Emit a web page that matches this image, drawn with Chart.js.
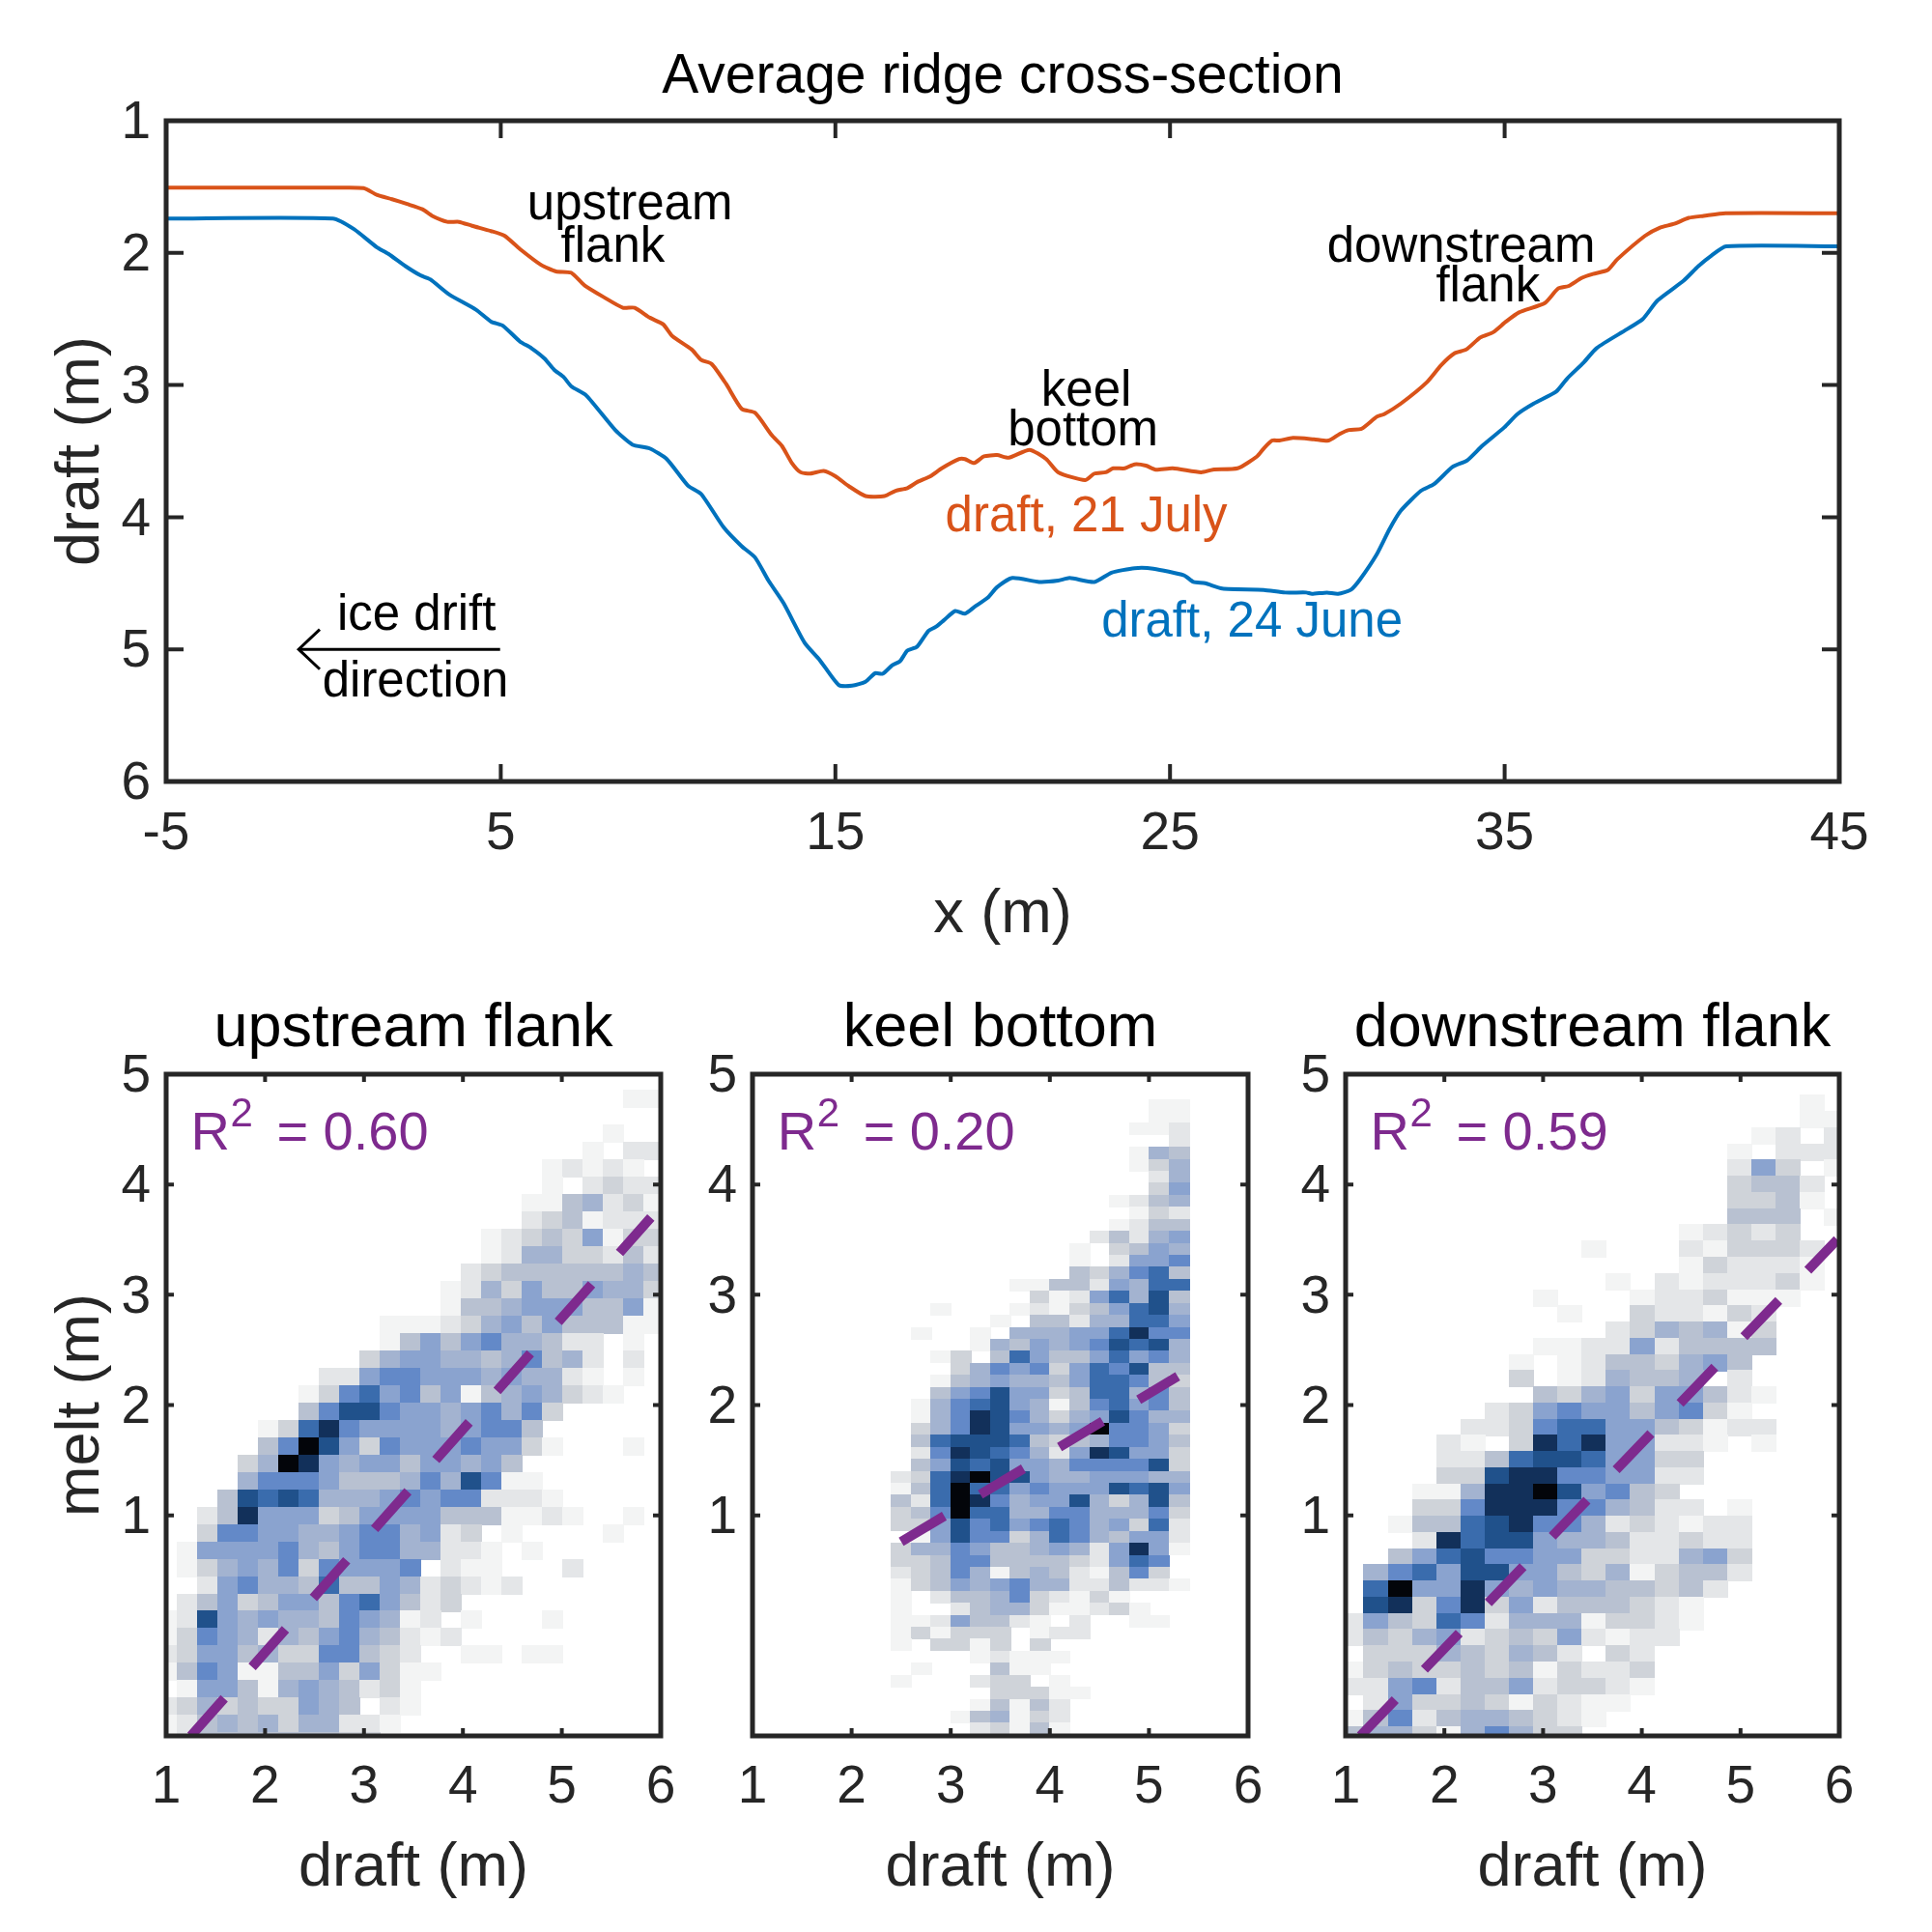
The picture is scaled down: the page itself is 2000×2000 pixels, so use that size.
<!DOCTYPE html>
<html>
<head>
<meta charset="utf-8">
<title>Average ridge cross-section</title>
<script src="https://cdn.jsdelivr.net/npm/chart.js@4"></script>
<style>
  html, body { margin: 0; padding: 0; background: #fff; }
  canvas { position: absolute; }
</style>
</head>
<body>
<script>
// top panel, draft curves
const xJuly = [-5,0.04,0.9,1.29,1.75,2.2,2.66,2.95,3.4,3.75,4.14,4.71,5.11,5.57,6.2,6.65,7.1,7.5,8.08,8.65,9,9.45,9.85,10.13,10.7,10.99,11.3,11.73,12.2,12.6,13.1,13.4,13.7,13.96,14.25,14.65,15,15.4,15.9,16.47,16.8,17.15,17.44,17.84,18.18,18.7,18.87,19.15,19.44,19.83,20.18,20.8,21.3,21.66,22.46,22.74,23.08,23.3,23.65,23.94,24.28,24.57,25.08,25.93,26.28,27.02,27.6,27.8,28.05,28.27,28.67,29.3,29.74,30.07,30.35,30.73,31.18,31.4,31.9,32.67,33.1,33.5,33.86,34.27,34.66,35.04,35.43,36.2,36.6,36.92,37.3,37.64,38.08,38.36,39.2,39.63,40.07,40.5,40.95,41.6,45];
const draftJuly = [1.507,1.507,1.51,1.56,1.594,1.63,1.67,1.72,1.765,1.765,1.795,1.835,1.87,1.97,2.09,2.14,2.15,2.245,2.335,2.415,2.415,2.49,2.54,2.63,2.73,2.81,2.84,2.99,3.18,3.21,3.38,3.46,3.59,3.66,3.67,3.65,3.69,3.765,3.84,3.84,3.8,3.78,3.735,3.69,3.63,3.56,3.56,3.59,3.54,3.53,3.55,3.49,3.56,3.66,3.72,3.67,3.66,3.63,3.63,3.6,3.61,3.64,3.63,3.66,3.64,3.63,3.54,3.48,3.42,3.42,3.4,3.41,3.42,3.37,3.34,3.33,3.24,3.22,3.14,2.98,2.85,2.76,2.73,2.64,2.6,2.52,2.45,2.38,2.27,2.25,2.19,2.16,2.13,2.05,1.87,1.81,1.78,1.735,1.72,1.7,1.7];
const xJune = [-5,-0.02,0.61,1.29,1.64,2.15,2.6,2.89,3.46,4.26,4.71,5.06,5.57,5.91,6.31,6.6,6.88,7.11,7.56,8.42,8.93,9.45,9.96,10.59,10.99,11.67,12.2,12.6,13,13.45,14.08,14.53,15.1,15.5,15.9,16.19,16.41,16.7,16.93,17.15,17.44,17.78,18,18.24,18.58,18.87,19.15,19.55,19.83,20.29,21.09,21.66,22,22.74,23.25,23.94,24.5,25.42,25.7,26.05,26.56,27.8,28.44,29.07,29.24,29.69,30.02,30.4,30.68,31.18,31.56,31.9,32.5,32.89,33.44,33.88,34.33,34.99,35.38,35.87,36.54,36.87,37.36,37.75,38.64,39.13,39.57,40.35,40.79,41.18,41.62,45];
const draftJune = [1.74,1.74,1.82,1.956,2.007,2.1,2.17,2.2,2.315,2.43,2.52,2.55,2.67,2.72,2.8,2.886,2.94,3.01,3.08,3.34,3.45,3.48,3.56,3.76,3.825,4.08,4.22,4.305,4.48,4.65,4.95,5.08,5.27,5.275,5.245,5.18,5.185,5.12,5.09,5.01,4.98,4.86,4.83,4.78,4.71,4.73,4.68,4.61,4.53,4.46,4.49,4.48,4.46,4.49,4.42,4.386,4.39,4.44,4.49,4.5,4.54,4.55,4.57,4.57,4.58,4.57,4.58,4.55,4.47,4.28,4.09,3.95,3.8,3.75,3.62,3.57,3.46,3.32,3.22,3.14,3.05,2.95,2.83,2.72,2.58,2.5,2.36,2.21,2.1,2.02,1.95,1.95];
const arrowShaftX = [-1.04,4.98];
const arrowShaftY = [5,5];
const arrowHeadX = [-0.41,-1.04,-0.41];
const arrowHeadY = [4.85,5,5.15];

const topXTicks = [-5,5,15,25,35,45];
const topYTicks = [1,2,3,4,5,6];
const lowXTicks = [1,2,3,4,5,6];
const lowYTicks = [1,2,3,4,5];

// labels inside the top panel: text, x, draft
const topNotes = [
  ['upstream',8.86,1.62,'#000'],['flank',8.35,1.94,'#000'],
  ['downstream',33.7,1.94,'#000'],['flank',34.5,2.24,'#000'],
  ['keel',22.5,3.03,'#000'],['bottom',22.4,3.33,'#000'],
  ['draft, 21 July',22.5,3.98,'#D95319'],['draft, 24 June',27.45,4.78,'#0072BD'],
  ['ice drift',2.48,4.73,'#000'],['direction',2.45,5.23,'#000']
];

// 2d histograms, one hex digit per bin (0 empty .. b highest), top row first
const upstreamBins = [
'00000 00000 00000 00000 00011',
'00000 00000 00000 00000 00000',
'00000 00000 00000 00000 00100',
'00000 00000 00000 00000 01022',
'00000 00000 00000 00001 21210',
'00000 00000 00000 00001 02322',
'00000 00000 00000 00011 45231',
'00000 00000 00000 00023 41222',
'00000 00000 00000 01234 36133',
'00000 00000 00000 01255 33242',
'00000 00000 00000 23444 44454',
'00000 00000 00001 25364 46553',
'00000 00000 00001 44566 64461',
'00000 00000 01112 35646 44411',
'00000 00000 01464 67554 22010',
'00000 00000 35665 54574 52020',
'00000 00022 67766 65655 21010',
'00000 00137 86746 14565 32100',
'00000 00479 97665 67573 00000',
'00000 138a7 66665 67740 00000',
'00000 47b96 37666 76631 00010',
'00003 5ba65 66466 56400 00000',
'00005 77764 44575 97110 00000',
'00049 89855 56767 72221 00000',
'0024a 66634 66664 44112 10010',
'00377 66556 77562 30100 00100',
'01666 67546 77552 21010 00000',
'01356 57376 66702 11000 20000',
'00267 55484 46523 21200 00000',
'02463 46647 86423 00000 00000',
'12965 65547 65120 10001 00000',
'13765 25467 54212 00000 00000',
'23664 53377 43200 11011 00000',
'14761 14463 63110 00000 00000',
'01664 15654 23100 00000 00000',
'23534 33654 02100 00000 00000',
'12454 53552 21000 00000 00000',
'12444 44443 30000 00000 00000'
];
const keelBins = [
'00000 00000 00011','00000 00000 00011','00000 00000 00112','00000 00000 00002',
'00000 00000 00154','00000 00000 00135','00000 00000 00025','00000 00000 00036',
'00000 00000 01245','00000 00000 00132','00000 00000 01244','00000 00000 24256',
'00000 00001 03465','00000 00001 02667','00000 00004 35784','00000 01144 26588',
'00000 00312 68594','00100 01213 46895','00000 10442 55886','01001 05556 68a77',
'00001 54656 79895','00130 48644 68675','00035 76736 87944','00145 65546 88743',
'00467 96634 88574','01578 96514 78674','0157a 97535 69755','0357a 96656 b7763',
'04899 98434 57764','027a9 87526 a9663','04698 96657 77793','238ab 99655 66655',
'148b8 86766 69896','428ba 75669 53594','347b8 85577 55573','33697 86787 56382',
'01697 73587 54662','35576 44565 26a61','33477 44443 26870','23475 14542 14730',
'13465 67552 24221','10244 57321 31000','10024 55311 23100','11264 42102 00110',
'13133 30122 00000','10331 30300 00000','00001 21110 00000','01000 41100 00000',
'10002 33010 00000','00000 33311 00000','00001 41420 00000','00014 51320 00000',
'00002 31410 00000'
];
const downstreamBins = [
'00000 00000 00000 00001 0','00000 00000 00000 00001 1','00000 00000 00000 00120 2',
'00000 00000 00000 01022 2','00000 00000 00000 02630 1','00000 00000 00000 03442 0',
'00000 00000 00000 03341 0','00000 00000 00000 04440 1','00000 00000 00001 23230 0',
'00000 00000 10002 13332 0','00000 00000 00001 32221 0','00000 00000 01021 22231 0',
'00000 00010 00122 31110 0','00000 00001 00322 13200 0','00000 00000 02354 51300 0',
'00000 00011 22624 44400 0','00000 00101 24435 64000 0','00000 00301 25445 02000 0',
'00000 00043 56366 42100 0','00000 02367 66467 31000 0','00000 22378 86643 12200 0',
'00002 103a8 a6622 10100 0','00002 24899 86633 00000 0','00003 39aa7 76622 00000 0',
'00011 5aab9 67430 00000 0','00033 7aaa7 75422 01000 0','00144 89a77 52321 22000 0',
'0002a 89965 54223 22000 0','00468 97766 33225 63000 0','05786 99664 35134 42000 0',
'08b66 a6565 54434 20000 0','09a37 a3624 44321 00000 0','26438 72555 13321 00000 0',
'24356 23436 21220 00000 0','03335 43542 03200 00000 0','13433 43413 22300 00000 0',
'22672 44623 32100 00000 0','02633 43132 11000 00000 0','14724 55432 10000 00000 0',
'45531 57533 00000 00000 0'
];

// dashed fits
const upstreamFitX = [1.25,5.9];
const upstreamFitY = [-1,3.7];
const keelFitX = [2.5,5.29];
const keelFitY = [0.76,2.26];
const downstreamFitX = [1.15,5.98];
const downstreamFitY = [-1,3.5];

const binColors = ['#ffffff','#f3f4f4','#e4e6e8','#cfd3d9','#b8c1d1','#a3b3d0','#8aa3cf','#6389c8','#3a6cad','#20518b','#12305a','#03050a'];
const FONT = '"Liberation Sans", Arial, sans-serif';
const INK = '#262626';
const PURPLE = '#7E2A8E';
const LOWER_PLOT_H = 685;

function pairs(xs, ys) {
  return xs.map((x, i) => ({ x: x, y: ys[i] }));
}

function binPoints(rows, x0, dx, y0, dy) {
  const pts = [];
  rows.forEach((row, r) => {
    row.replace(/ /g, '').split('').forEach((ch, c) => {
      const level = parseInt(ch, 16);
      if (level > 0) pts.push({ x: x0 + dx * (c + 0.5), y: y0 - dy * (r + 0.5), level: level });
    });
  });
  return pts;
}

// one colored stamp per level, the size of a bin on this panel
function binStamps(wPx, hPx) {
  return binColors.map(col => {
    const c = document.createElement('canvas');
    c.width = Math.ceil(wPx + 0.5);
    c.height = Math.ceil(hPx + 0.5);
    const g = c.getContext('2d');
    g.fillStyle = col;
    g.fillRect(0, 0, c.width, c.height);
    return c;
  });
}

const frame = {
  id: 'frame',
  afterDatasetsDraw(chart, args, opts) {
    const { ctx, chartArea: a, scales } = chart;
    ctx.save();
    ctx.strokeStyle = INK;
    ctx.lineWidth = 4;
    scales.x.ticks.forEach(t => {
      const px = scales.x.getPixelForValue(t.value);
      ctx.beginPath();
      ctx.moveTo(px, a.top); ctx.lineTo(px, a.top + opts.len);
      ctx.moveTo(px, a.bottom); ctx.lineTo(px, a.bottom - opts.len);
      ctx.stroke();
    });
    scales.y.ticks.forEach(t => {
      const py = scales.y.getPixelForValue(t.value);
      ctx.beginPath();
      ctx.moveTo(a.left, py); ctx.lineTo(a.left + opts.len, py);
      ctx.moveTo(a.right, py); ctx.lineTo(a.right - opts.len, py);
      ctx.stroke();
    });
    ctx.lineWidth = 5;
    ctx.strokeRect(a.left, a.top, a.right - a.left, a.bottom - a.top);
    ctx.restore();
  }
};

const notes = {
  id: 'notes',
  afterDatasetsDraw(chart, args, opts) {
    const { ctx, scales } = chart;
    ctx.save();
    ctx.font = '51px ' + FONT;
    ctx.textAlign = 'center';
    ctx.textBaseline = 'middle';
    (opts.items || []).forEach(n => {
      ctx.fillStyle = n[3];
      ctx.fillText(n[0], scales.x.getPixelForValue(n[1]), scales.y.getPixelForValue(n[2]) + 3);
    });
    if (opts.r2) {
      const px = scales.x.getPixelForValue(1.25);
      const py = scales.y.getPixelForValue(4.32);
      ctx.textAlign = 'left';
      ctx.textBaseline = 'alphabetic';
      ctx.fillStyle = PURPLE;
      ctx.font = '56px ' + FONT;
      ctx.fillText('R', px, py);
      ctx.fillText('=', px + 89, py);
      ctx.fillText(opts.r2, px + 137, py);
      ctx.font = '42px ' + FONT;
      ctx.fillText('2', px + 41, py - 24);
    }
    ctx.restore();
  }
};

function axis(cfg) {
  return {
    type: 'linear',
    min: cfg.min,
    max: cfg.max,
    reverse: !!cfg.reverse,
    grid: { display: false },
    border: { display: false },
    afterBuildTicks: s => { s.ticks = cfg.ticks.map(v => ({ value: v })); },
    afterFit: s => { if (cfg.width) s.width = cfg.width; if (cfg.height) s.height = cfg.height; },
    ticks: {
      color: INK,
      autoSkip: false,
      maxRotation: 0,
      padding: cfg.pad,
      labelOffset: cfg.labelOffset || 0,
      font: { family: FONT, size: 55 },
      callback: v => String(v)
    },
    title: {
      display: !!cfg.title,
      text: cfg.title,
      color: INK,
      padding: cfg.titlePad,
      font: { family: FONT, size: 63, lineHeight: 1 }
    }
  };
}

function makeChart(box, cfg) {
  const c = document.createElement('canvas');
  c.width = box.w; c.height = box.h;
  c.style.left = box.l + 'px'; c.style.top = box.t + 'px';
  document.body.appendChild(c);
  return new Chart(c, {
    type: 'scatter',
    data: { datasets: cfg.datasets },
    plugins: [frame, notes],
    options: {
      responsive: false,
      animation: false,
      events: [],
      layout: { padding: { top: cfg.padTop, right: box.r, bottom: 0, left: 0 } },
      scales: { x: cfg.x, y: cfg.y },
      plugins: {
        legend: { display: false },
        tooltip: { enabled: false },
        title: {
          display: true,
          fullSize: false,
          text: cfg.title,
          color: '#000',
          padding: { top: 0, bottom: cfg.titleGap },
          font: { family: FONT, size: cfg.titleSize, weight: 'normal', lineHeight: 1 }
        },
        frame: { len: cfg.tickLen },
        notes: { items: cfg.items, r2: cfg.r2 }
      }
    }
  });
}

function curve(xs, ys, color, width) {
  return { data: pairs(xs, ys), showLine: true, borderColor: color, borderWidth: width, pointRadius: 0, fill: false, tension: 0.2 };
}

makeChart({ l: 0, t: 0, w: 2000, h: 979, r: 96 }, {
  title: 'Average ridge cross-section',
  titleSize: 57,
  padTop: 52,
  titleGap: 16,
  tickLen: 18,
  items: topNotes,
  datasets: [
    { ...curve(arrowShaftX, arrowShaftY, '#000', 3), tension: 0 },
    { ...curve(arrowHeadX, arrowHeadY, '#000', 3), tension: 0 },
    curve(xJuly, draftJuly, '#D95319', 4),
    curve(xJune, draftJune, '#0072BD', 4)
  ],
  x: axis({ min: -5, max: 45, ticks: topXTicks, height: 170, pad: 14, title: 'x (m)', titlePad: { top: 0, bottom: 0 } }),
  y: axis({ min: 1, max: 6, reverse: true, ticks: topYTicks, width: 172, pad: 8, labelOffset: 3, title: 'draft (m)', titlePad: { top: 53, bottom: 0 } })
});

function lowerPanel(left, plotW, title, r2, rows, x0, dx, y0, dy, fitX, fitY, yTitle) {
  const stamps = binStamps(dx * plotW / 5, dy * LOWER_PLOT_H / 6);
  makeChart({ l: left, t: 1000, w: 172 + plotW + 40, h: 966, r: 40 }, {
    title: title,
    titleSize: 63,
    padTop: 34,
    titleGap: 15,
    tickLen: 8,
    r2: r2,
    datasets: [
      { data: pairs(fitX, fitY), showLine: true, borderColor: PURPLE, borderWidth: 10, borderDash: [52, 43.5], pointRadius: 0, tension: 0 },
      {
        data: binPoints(rows, x0, dx, y0, dy),
        showLine: false,
        pointRadius: 14,
        borderWidth: 0,
        pointStyle: ctx => stamps[ctx.raw ? ctx.raw.level : 1]
      }
    ],
    x: axis({ min: 1, max: 6, ticks: lowXTicks, height: 169, pad: 13, title: 'draft (m)', titlePad: { top: 0, bottom: 0 } }),
    y: axis({ min: -1, max: 5, ticks: lowYTicks, width: 172, pad: 8, labelOffset: 3, title: yTitle, titlePad: { top: 53, bottom: 0 } })
  });
}

lowerPanel(0, 512, 'upstream flank', '0.60', upstreamBins, 0.91, 0.205, 4.855, 0.1575, upstreamFitX, upstreamFitY, 'melt (m)');
lowerPanel(607, 513, 'keel bottom', '0.20', keelBins, 2.404, 0.2, 4.774, 0.1088, keelFitX, keelFitY, '');
lowerPanel(1221, 511, 'downstream flank', '0.59', downstreamBins, 0.9395, 0.2455, 4.807, 0.1468, downstreamFitX, downstreamFitY, '');
</script>
</body>
</html>
